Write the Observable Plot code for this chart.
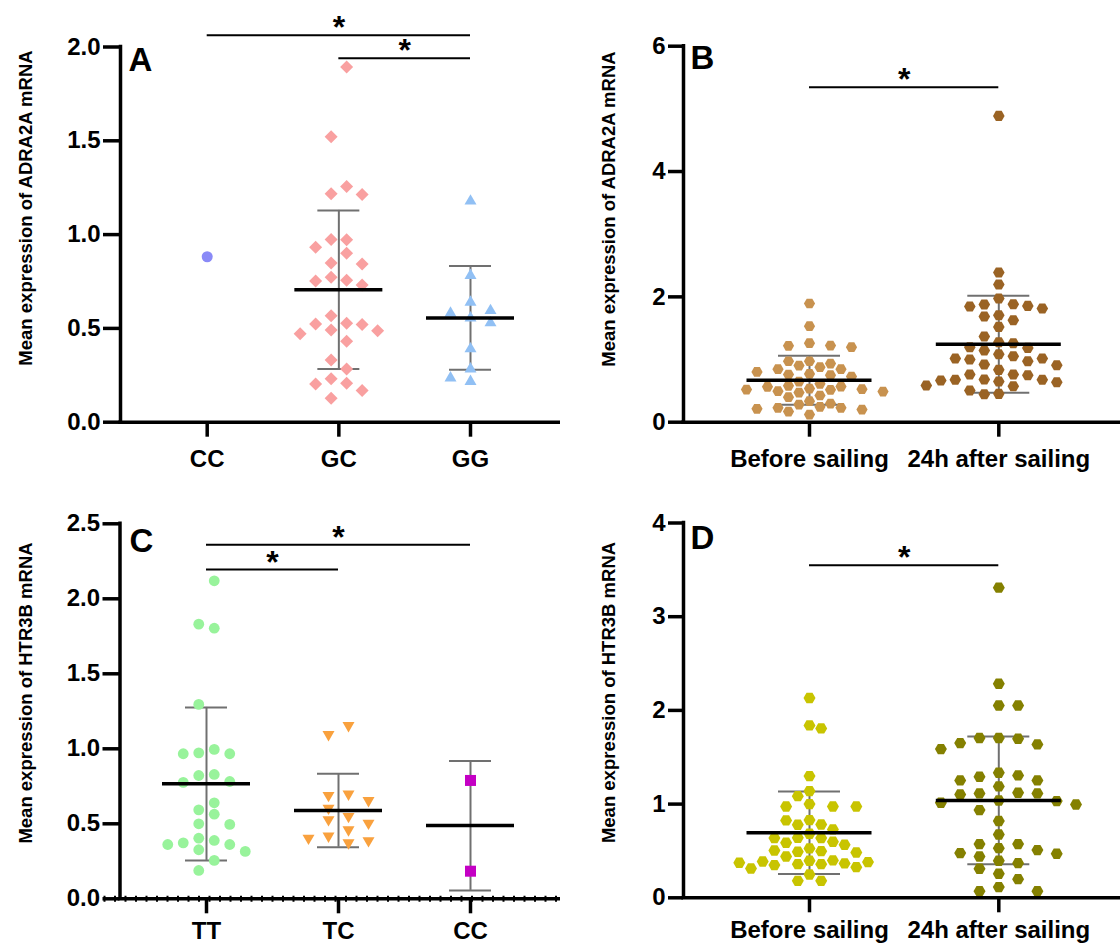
<!DOCTYPE html>
<html>
<head>
<meta charset="utf-8">
<script src="https://cdn.jsdelivr.net/npm/d3@7"></script>
<script src="https://cdn.jsdelivr.net/npm/@observablehq/plot@0.6"></script>
<style>
  body { margin: 0; background: #fff; }
  #root { position: relative; width: 1120px; height: 946px; overflow: hidden; background: #fff; }
  #root > div { position: absolute; }
  svg [aria-label="y-axis tick"], svg [aria-label="x-axis tick"],
  svg [aria-label="y-axis tick"] path, svg [aria-label="x-axis tick"] path { stroke-width: 3.5px; }
  svg g[aria-label="y-axis"] .tick line, svg g[aria-label="x-axis"] .tick line { stroke-width: 3.5px; }
  svg g[aria-label="y-axis"] path.domain, svg g[aria-label="x-axis"] path.domain { display: none; }
</style>
</head>
<body>
<div id="root"></div>
<script>
// ---------------- Panel A: ADRA2A by genotype ----------------
const catsA = ["CC", "GC", "GG"];
const a_CC = [0.882];
const a_GC = [1.893, 1.522, 1.257, 1.214, 1.218, 0.974, 0.972, 0.932, 0.901, 0.848, 0.843, 0.772, 0.756, 0.752, 0.731,
              0.567, 0.521, 0.528, 0.523, 0.487, 0.492, 0.471, 0.432, 0.332, 0.284, 0.231, 0.204, 0.208, 0.169, 0.128];
const a_GG = [1.188, 0.791, 0.649, 0.565, 0.590, 0.604, 0.539, 0.400, 0.293, 0.226, 0.245];
const meanA = [null, 0.706, 0.556];
const sdHiA = [null, 1.129, 0.832];
const sdLoA = [null, 0.283, 0.279];
const sigFromA = ["CC", "GC"];
const sigToA = ["GG", "GG"];
const sigYA = [2.063, 1.94];
const yTicksA = [0, 0.5, 1.0, 1.5, 2.0];

// ---------------- Panel B: ADRA2A before / after sailing ----------------
const catsB = ["Before sailing", "24h after sailing"];
const b_before = [1.894, 1.532, 1.261, 1.197, 1.218, 1.223, 0.973, 0.973, 0.936, 0.904, 0.846, 0.878, 0.846, 0.803,
                  0.771, 0.761, 0.750, 0.729, 0.649, 0.564, 0.569, 0.580, 0.612, 0.516, 0.527, 0.537, 0.489, 0.521,
                  0.473, 0.495, 0.426, 0.399, 0.335, 0.298, 0.282, 0.245, 0.213, 0.202, 0.229, 0.229, 0.170, 0.122];
const b_after = [4.888, 2.388, 2.197, 1.973, 1.856, 1.883, 1.878, 1.814, 1.846, 1.686, 1.707, 1.628, 1.521, 1.367,
                 1.277, 1.261, 1.197, 1.186, 1.144, 1.085, 1.016, 1.000, 1.016, 1.053, 0.973, 0.920, 0.910, 0.835,
                 0.761, 0.750, 0.761, 0.676, 0.638, 0.676, 0.649, 0.665, 0.681, 0.585, 0.574, 0.505, 0.447, 0.452];
const meanB = [0.670, 1.245];
const sdHiB = [1.059, 2.016];
const sdLoB = [0.277, 0.468];
const sigFromB = ["Before sailing"];
const sigToB = ["24h after sailing"];
const sigYB = [5.345];
const yTicksB = [0, 2, 4, 6];

// ---------------- Panel C: HTR3B by genotype ----------------
const catsC = ["TT", "TC", "CC"];
const c_TT = [2.12, 1.804, 1.831, 1.296, 0.996, 0.967, 0.973, 0.967, 0.829, 0.822, 0.776, 0.782, 0.64, 0.593,
              0.564, 0.496, 0.5, 0.389, 0.404, 0.362, 0.362, 0.373, 0.316, 0.327, 0.256, 0.189];
const c_TC = [1.144, 1.084, 0.687, 0.678, 0.644, 0.593, 0.538, 0.493, 0.516, 0.449, 0.407, 0.393, 0.362, 0.376];
const c_CC = [0.789, 0.184];
const meanC = [0.767, 0.589, 0.489];
const sdHiC = [1.276, 0.833, 0.918];
const sdLoC = [0.256, 0.344, 0.056];
const sigFromC = ["TT", "TT"];
const sigToC = ["CC", "TC"];
const sigYC = [2.36, 2.195];
const yTicksC = [0, 0.5, 1.0, 1.5, 2.0, 2.5];

// ---------------- Panel D: HTR3B before / after sailing ----------------
const catsD = ["Before sailing", "24h after sailing"];
const d_before = [2.132, 1.84, 1.808, 1.299, 1.139, 1.085, 1.0, 0.975, 0.975, 0.975, 0.829, 0.826, 0.779, 0.783,
                  0.73, 0.683, 0.637, 0.641, 0.637, 0.598, 0.566, 0.587, 0.527, 0.498, 0.491, 0.505, 0.484, 0.441,
                  0.399, 0.395, 0.359, 0.374, 0.367, 0.388, 0.359, 0.381, 0.349, 0.327, 0.313, 0.249, 0.181, 0.181];
const d_after = [3.31, 2.285, 2.053, 2.053, 1.705, 1.705, 1.698, 1.637, 1.651, 1.587, 1.335, 1.306, 1.292, 1.253,
                 1.253, 1.189, 1.114, 1.121, 1.103, 1.114, 1.039, 1.032, 0.996, 1.014, 0.936, 0.819, 0.676, 0.573,
                 0.573, 0.53, 0.509, 0.441, 0.477, 0.47, 0.395, 0.37, 0.31, 0.256, 0.199, 0.071, 0.114, 0.071];
const meanD = [0.694, 1.039];
const sdHiD = [1.135, 1.722];
const sdLoD = [0.253, 0.359];
const sigFromD = ["Before sailing"];
const sigToD = ["24h after sailing"];
const sigYD = [3.55];
const yTicksD = [0, 1, 2, 3, 4];

// ---------------- symbols (styling) ----------------
const R = (size) => Math.sqrt(size / Math.PI);
const symDiamond = {draw(c, s) { const r = R(s); c.moveTo(0, -r); c.lineTo(r, 0); c.lineTo(0, r); c.lineTo(-r, 0); c.closePath(); }};
const symHex = {draw(c, s) { const r = R(s), h = r * Math.sqrt(3) / 2;
  c.moveTo(r, 0); c.lineTo(r / 2, h); c.lineTo(-r / 2, h); c.lineTo(-r, 0); c.lineTo(-r / 2, -h); c.lineTo(r / 2, -h); c.closePath(); }};
const symTriUp = {draw(c, s) { const r = R(s), h = r * Math.sqrt(3) / 2;
  c.moveTo(0, -h); c.lineTo(r, h); c.lineTo(-r, h); c.closePath(); }};
const symTriDown = {draw(c, s) { const r = R(s), h = r * Math.sqrt(3) / 2;
  c.moveTo(0, h); c.lineTo(r, -h); c.lineTo(-r, -h); c.closePath(); }};
const symSquare = {draw(c, s) { const r = R(s); c.rect(-r, -r, 2 * r, 2 * r); }};

// scatter layout (Prism-like column swarm), offsets in pixels
function swarm(values, pyu, g, shift, D) {
  const order = d3.range(values.length).sort((i, j) => values[j] - values[i]);
  const placed = [];
  const off = new Array(values.length).fill(0);
  let balance = 0;
  for (const i of order) {
    const y = values[i] * pyu;
    let chosen = null;
    for (let k = 0; k < 80 && chosen === null; k++) {
      const m = (k + shift) * g;
      const cands = m === 0 ? [0] : (balance > 0 ? [-m, m] : [m, -m]);
      for (const cx of cands) {
        if (placed.every(p => (p.x - cx) ** 2 + (p.y - y) ** 2 >= D * D - 1e-6)) { chosen = cx; break; }
      }
    }
    off[i] = chosen;
    placed.push({x: chosen, y});
    balance += Math.sign(chosen);
  }
  return off;
}

const GREY = "#707070";
const FONT = "'Liberation Sans', Arial, Helvetica, sans-serif";

function buildPanel(cfg) {
  const {left, top, width, height, ml, mt, mb, cats, catPx, yMax, yTicks, yFmt, yTickSize, xPad,
         title, titleX, titleY, letter, letterX, letterY, groups, mean, hi, lo, capHalf, meanHalf,
         sigFrom, sigTo, sigY, dotted} = cfg;
  const ppu = (catPx[1] - catPx[0]) / (cats.length - 1);
  const xDom = [(ml - catPx[0]) / ppu, (width - catPx[0]) / ppu];
  const pyu = (height - mt - mb) / yMax;
  const idx = d3.range(cats.length);
  const barIdx = idx.filter(i => hi[i] != null);
  const meanIdx = idx.filter(i => mean[i] != null);
  const sIdx = d3.range(sigY.length);
  const marks = [];

  // error bars (mean ± SD)
  marks.push(Plot.ruleX(barIdx, {x: i => i, y1: i => lo[i], y2: i => hi[i], stroke: GREY, strokeWidth: 2}));
  marks.push(Plot.ruleY(barIdx, {y: i => hi[i], x1: i => i - capHalf / ppu, x2: i => i + capHalf / ppu, stroke: GREY, strokeWidth: 2}));
  marks.push(Plot.ruleY(barIdx, {y: i => lo[i], x1: i => i - capHalf / ppu, x2: i => i + capHalf / ppu, stroke: GREY, strokeWidth: 2}));

  // points
  for (const grp of groups) {
    const ci = cats.indexOf(grp.cat);
    const off = swarm(grp.values, pyu, grp.g, grp.shift, grp.D);
    const pts = grp.values.map((v, j) => ({x: ci + off[j] / ppu, y: v}));
    marks.push(Plot.dot(pts, {x: "x", y: "y", r: grp.r, symbol: grp.symbol, fill: grp.fill, stroke: "none"}));
  }

  // mean lines
  marks.push(Plot.ruleY(meanIdx, {y: i => mean[i], x1: i => i - meanHalf / ppu, x2: i => i + meanHalf / ppu, stroke: "black", strokeWidth: 3.5}));

  // axis lines
  marks.push(Plot.ruleY([0], {stroke: "black", strokeWidth: 3.5, strokeLinecap: "square"}));
  if (dotted) {
    marks.push(Plot.ruleY([0], {x1: xDom[0] - 16 / ppu, x2: xDom[1], stroke: "black", strokeWidth: 6, strokeDasharray: "2,8.5"}));
  }
  marks.push(Plot.ruleX([xDom[0]], {stroke: "black", strokeWidth: 3.5, strokeLinecap: "square"}));

  // significance brackets
  const fx = i => cats.indexOf(sigFrom[i]);
  const tx = i => cats.indexOf(sigTo[i]);
  marks.push(Plot.ruleY(sIdx, {y: i => sigY[i], x1: fx, x2: tx, stroke: "black", strokeWidth: 2}));
  marks.push(Plot.text(sIdx, {x: i => (fx(i) + tx(i)) / 2, y: i => sigY[i], text: () => "*",
    fontSize: 32, fontWeight: "bold", lineAnchor: "bottom", dy: 3}));

  // panel letter
  marks.push(Plot.text([letter], {text: d => d, frameAnchor: "top-left", dx: letterX - ml, dy: letterY - mt,
    textAnchor: "start", lineAnchor: "top", fontSize: 33, fontWeight: "bold"}));
  // y-axis title
  marks.push(Plot.text([title], {text: d => d, frameAnchor: "top-left", dx: titleX - ml, dy: titleY - mt,
    rotate: -90, textAnchor: "middle", lineAnchor: "middle", fontSize: 18.5, fontWeight: "bold"}));

  const svg = Plot.plot({
    width, height,
    marginLeft: ml, marginRight: 0, marginTop: mt, marginBottom: mb,
    style: {fontFamily: FONT, fontSize: "24px", fontWeight: "bold", background: "white", overflow: "visible", color: "black"},
    x: {domain: xDom, ticks: idx, tickFormat: i => cats[Math.round(i)], tickSize: 15, tickPadding: xPad, label: null},
    y: {domain: [0, yMax], ticks: yTicks, tickFormat: d3.format(yFmt), tickSize: yTickSize, tickPadding: 3, label: null},
    marks
  });
  const wrap = document.createElement("div");
  wrap.style.left = left + "px";
  wrap.style.top = top + "px";
  wrap.appendChild(svg);
  document.getElementById("root").appendChild(wrap);
}

buildPanel({
  left: 0, top: 0, width: 560, height: 480, ml: 120, mt: 46.5, mb: 58.3,
  cats: catsA, catPx: [206.7, 470], yMax: 2, yTicks: yTicksA, yFmt: ".1f", yTickSize: 17, xPad: 13,
  title: "Mean expression of ADRA2A mRNA", titleX: 26, titleY: 207.5,
  letter: "A", letterX: 128, letterY: 47,
  groups: [
    {cat: "CC", values: a_CC, symbol: "circle", r: 5.5, fill: "#8a8af7", g: 15.5, shift: 0, D: 12},
    {cat: "GC", values: a_GC, symbol: symDiamond, r: 6.5, fill: "#f9a0a0", g: 15.5, shift: 0.5, D: 12},
    {cat: "GG", values: a_GG, symbol: symTriUp, r: 6, fill: "#91c0f4", g: 20, shift: 0, D: 12}
  ],
  mean: meanA, hi: sdHiA, lo: sdLoA, capHalf: 21, meanHalf: 44,
  sigFrom: sigFromA, sigTo: sigToA, sigY: sigYA, dotted: false
});

buildPanel({
  left: 560, top: 0, width: 560, height: 480, ml: 123, mt: 45.7, mb: 58.3,
  cats: catsB, catPx: [249, 438.3], yMax: 6, yTicks: yTicksB, yFmt: "d", yTickSize: 15, xPad: 13,
  title: "Mean expression of ADRA2A mRNA", titleX: 49, titleY: 208.5,
  letter: "B", letterX: 130, letterY: 45,
  groups: [
    {cat: "Before sailing", values: b_before, symbol: symHex, r: 5.6, fill: "#c8924f", g: 10.5, shift: 0, D: 11},
    {cat: "24h after sailing", values: b_after, symbol: symHex, r: 5.8, fill: "#9a6324", g: 14.5, shift: 0, D: 11.5}
  ],
  mean: meanB, hi: sdHiB, lo: sdLoB, capHalf: 31, meanHalf: 62.5,
  sigFrom: sigFromB, sigTo: sigToB, sigY: sigYB, dotted: false
});

buildPanel({
  left: 0, top: 480, width: 560, height: 466, ml: 119.5, mt: 43.3, mb: 47.7,
  cats: catsC, catPx: [206, 470], yMax: 2.5, yTicks: yTicksC, yFmt: ".1f", yTickSize: 17, xPad: 8,
  title: "Mean expression of HTR3B mRNA", titleX: 26, titleY: 212.5,
  letter: "C", letterX: 129, letterY: 48,
  groups: [
    {cat: "TT", values: c_TT, symbol: "circle", r: 5.4, fill: "#98f39b", g: 15.5, shift: 0.5, D: 11},
    {cat: "TC", values: c_TC, symbol: symTriDown, r: 6, fill: "#f9a13e", g: 20, shift: 0.5, D: 11},
    {cat: "CC", values: c_CC, symbol: symSquare, r: 5.5, fill: "#c400c4", g: 20, shift: 0, D: 11}
  ],
  mean: meanC, hi: sdHiC, lo: sdLoC, capHalf: 21, meanHalf: 44,
  sigFrom: sigFromC, sigTo: sigToC, sigY: sigYC, dotted: true
});

buildPanel({
  left: 560, top: 480, width: 560, height: 466, ml: 123, mt: 42.5, mb: 48.7,
  cats: catsD, catPx: [249, 438.3], yMax: 4, yTicks: yTicksD, yFmt: "d", yTickSize: 15, xPad: 8,
  title: "Mean expression of HTR3B mRNA", titleX: 49, titleY: 212,
  letter: "D", letterX: 130, letterY: 45,
  groups: [
    {cat: "Before sailing", values: d_before, symbol: symHex, r: 6, fill: "#c8c400", g: 11.7, shift: 0, D: 12},
    {cat: "24h after sailing", values: d_after, symbol: symHex, r: 6, fill: "#848000", g: 19.3, shift: 0, D: 12}
  ],
  mean: meanD, hi: sdHiD, lo: sdLoD, capHalf: 31, meanHalf: 62.5,
  sigFrom: sigFromD, sigTo: sigToD, sigY: sigYD, dotted: false
});
</script>
</body>
</html>
